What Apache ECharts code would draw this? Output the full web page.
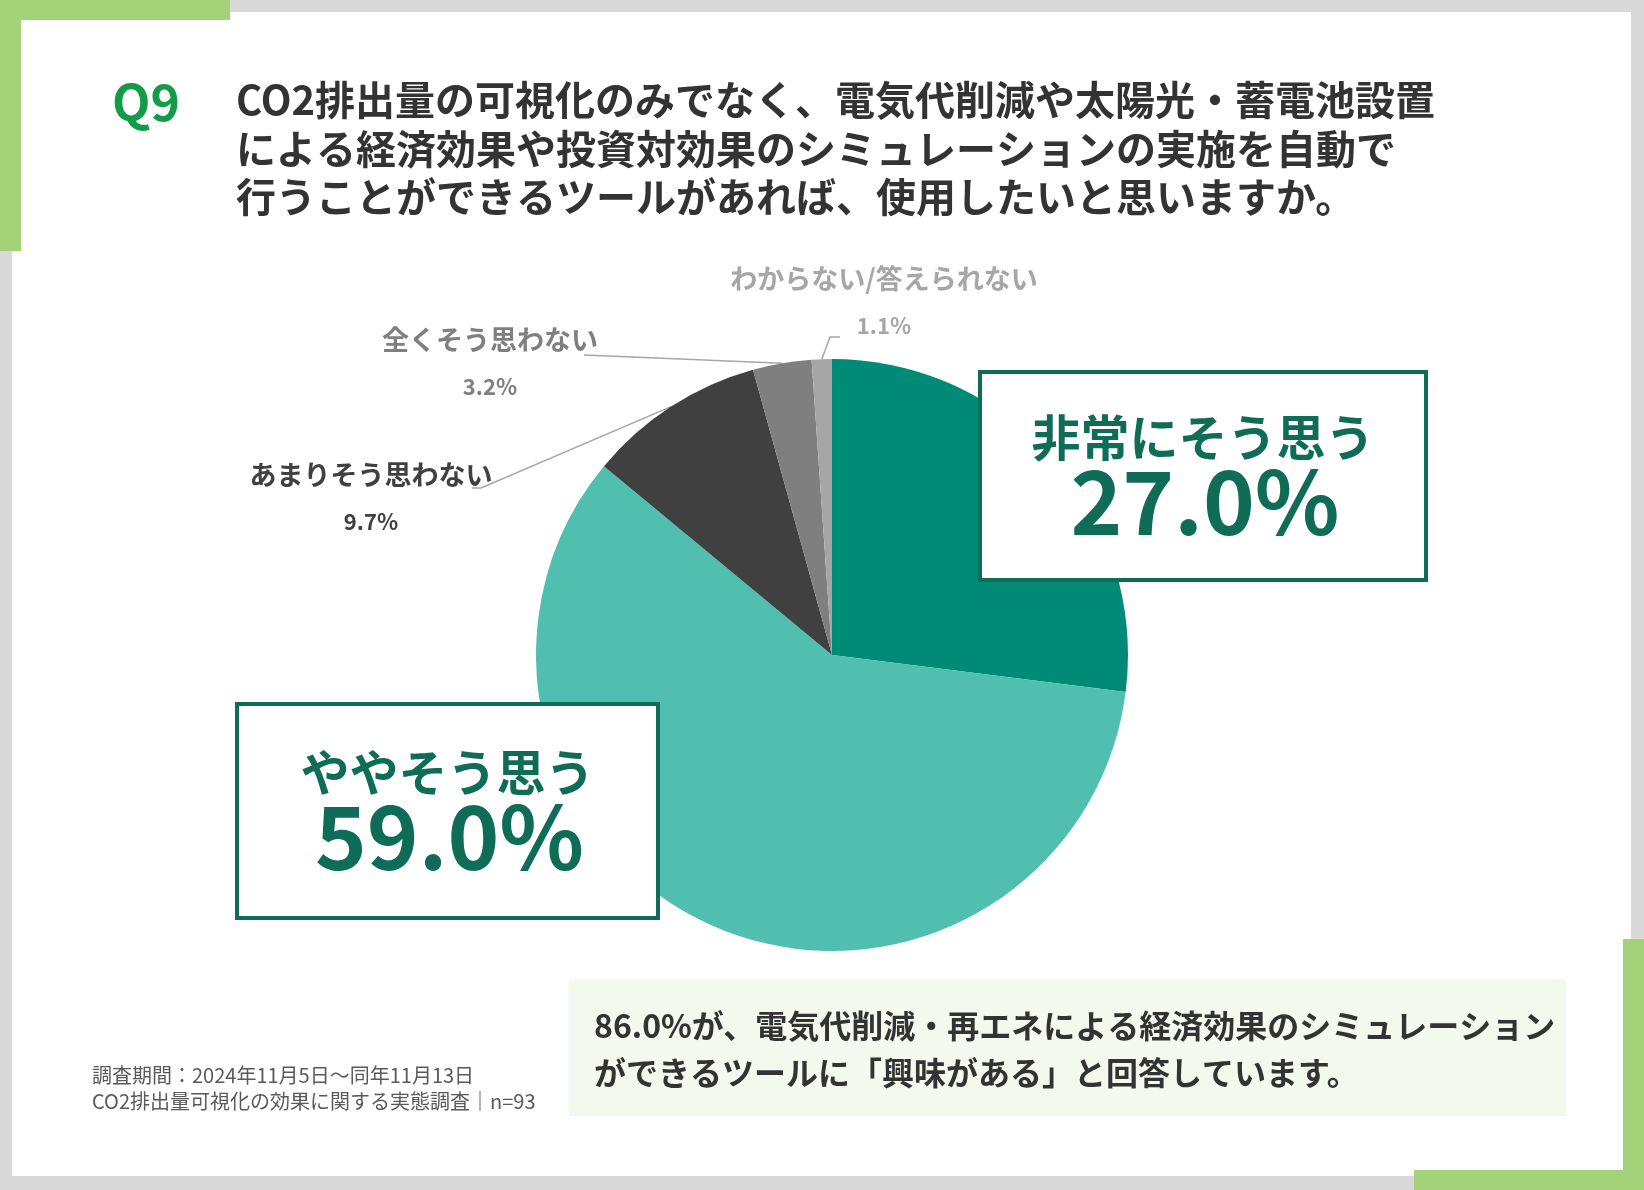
<!DOCTYPE html>
<html>
<head>
<meta charset="utf-8">
<script src="https://cdn.jsdelivr.net/npm/echarts@6/dist/echarts.min.js"></script>
<style>
  html, body { margin: 0; padding: 0; background: #d9d9d9; }
  #chart { width: 1644px; height: 1190px; }
</style>
</head>
<body>
<div id="chart"></div>
<script>
// answers, clockwise from 12 o'clock
const categories = ['非常にそう思う', 'ややそう思う', 'あまりそう思わない', '全くそう思わない', 'わからない/答えられない'];
const values = [27.0, 59.0, 9.7, 3.2, 1.1];

const questionNo = 'Q9';
const titleLines = [
    'CO2排出量の可視化のみでなく、電気代削減や太陽光・蓄電池設置',
    'による経済効果や投資対効果のシミュレーションの実施を自動で',
    '行うことができるツールがあれば、使用したいと思いますか。'
];
const summaryLines = [
    '86.0%が、電気代削減・再エネによる経済効果のシミュレーション',
    'ができるツールに「興味がある」と回答しています。'
];
const noteLines = [
    '調査期間：2024年11月5日～同年11月13日',
    'CO2排出量可視化の効果に関する実態調査｜n=93'
];

const FONT = '"Noto Sans CJK JP", "Noto Sans", sans-serif';
const sliceColors = ['#008b77', '#50bfb0', '#404040', '#7f7f7f', '#a6a6a6'];
const labelColors = [null, null, '#404040', '#7f7f7f', '#a6a6a6'];
const boxGreen = '#0e6c57';

// where the small outside labels sit, and the bends of their leader lines
const labelSpots = {
    2: { x: 371, y: 498, line: [[481, 488], [472, 488]] },
    3: { x: 490, y: 363, line: [[584, 355]] },
    4: { x: 884, y: 302, line: [[830, 337], [840, 337]] }
};

const fmt = v => v.toFixed(1) + '%';

const chart = echarts.init(document.getElementById('chart'));

const pieData = categories.map((name, i) => {
    const big = i < 2;
    return {
        name: name,
        value: values[i],
        itemStyle: { color: sliceColors[i] },
        label: big ? { show: false } : { show: true, color: labelColors[i] },
        labelLine: { show: !big }
    };
});

// big framed callouts for the two main answers
function callout(i, box, nameY, valueY) {
    const cx = box.x + box.w / 2;
    return [
        {
            type: 'rect', z: 10,
            shape: { x: box.x, y: box.y, width: box.w, height: box.h },
            style: { fill: '#fff', stroke: boxGreen, lineWidth: 4 }
        },
        {
            type: 'text', z: 11,
            style: {
                text: categories[i], x: cx, y: nameY, textAlign: 'center', textVerticalAlign: 'middle',
                font: 'bold 49px ' + FONT, fill: boxGreen
            }
        },
        {
            type: 'text', z: 11,
            style: {
                text: fmt(values[i]), x: cx + 2, y: valueY, textAlign: 'center', textVerticalAlign: 'middle',
                font: 'bold 88px ' + FONT, fill: boxGreen
            }
        }
    ];
}

const graphics = [
    // frame
    { type: 'rect', z: -5, shape: { x: 12, y: 12, width: 1619, height: 1164 }, style: { fill: '#fff' } },
    { type: 'rect', z: -4, shape: { x: 0, y: 0, width: 230, height: 20 }, style: { fill: '#a4d279' } },
    { type: 'rect', z: -4, shape: { x: 0, y: 0, width: 21, height: 251 }, style: { fill: '#a4d279' } },
    { type: 'rect', z: -4, shape: { x: 1623, y: 939, width: 21, height: 251 }, style: { fill: '#a4d279' } },
    { type: 'rect', z: -4, shape: { x: 1414, y: 1170, width: 230, height: 20 }, style: { fill: '#a4d279' } },
    // question
    {
        type: 'text', z: 5,
        style: { text: questionNo, x: 112, y: 102, textVerticalAlign: 'middle', font: 'bold 50px ' + FONT, fill: '#129c48' }
    },
    // summary panel
    { type: 'rect', z: 1, shape: { x: 569, y: 979, width: 997, height: 137 }, style: { fill: '#f4f9ee' } }
];

titleLines.forEach((t, k) => {
    graphics.push({
        type: 'text', z: 5,
        style: { text: t, x: 236, y: 100 + k * 48.5, textVerticalAlign: 'middle', font: 'bold 40px ' + FONT, fill: '#333' }
    });
});
summaryLines.forEach((t, k) => {
    graphics.push({
        type: 'text', z: 5,
        style: { text: t, x: 594, y: 1026 + k * 47, textVerticalAlign: 'middle', font: 'bold 32px ' + FONT, fill: '#333' }
    });
});
noteLines.forEach((t, k) => {
    graphics.push({
        type: 'text', z: 5,
        style: { text: t, x: 92, y: 1075 + k * 26, textVerticalAlign: 'middle', font: '20px ' + FONT, fill: '#595959' }
    });
});

graphics.push(...callout(0, { x: 980, y: 372, w: 446, h: 208 }, 437, 502));
graphics.push(...callout(1, { x: 237, y: 704, w: 421, h: 214 }, 772, 837));

const option = {
    backgroundColor: '#d9d9d9',
    animation: false,
    textStyle: { fontFamily: FONT },
    graphic: { elements: graphics },
    series: [
        {
            type: 'pie',
            center: [832, 655],
            radius: 296,
            startAngle: 90,
            clockwise: true,
            avoidLabelOverlap: false,
            silent: true,
            emphasis: { disabled: true },
            itemStyle: { borderWidth: 0 },
            label: {
                position: 'outside',
                fontFamily: FONT,
                formatter: p => '{n|' + p.name + '}\n{v|' + fmt(values[p.dataIndex]) + '}',
                rich: {
                    n: { fontFamily: FONT, fontSize: 27, fontWeight: 'bold', lineHeight: 47 },
                    v: { fontFamily: FONT, fontSize: 22, fontWeight: 'bold', lineHeight: 47 }
                }
            },
            labelLine: {
                length: 10,
                length2: 10,
                lineStyle: { color: '#a6a6a6', width: 1.5 }
            },
            labelLayout: function (params) {
                const spot = labelSpots[params.dataIndex];
                if (!spot) return {};
                const start = params.labelLinePoints ? params.labelLinePoints[0] : spot.line[0];
                return {
                    x: spot.x,
                    y: spot.y,
                    align: 'center',
                    verticalAlign: 'middle',
                    labelLinePoints: [start].concat(spot.line)
                };
            },
            data: pieData
        }
    ]
};

chart.setOption(option);
</script>
</body>
</html>
